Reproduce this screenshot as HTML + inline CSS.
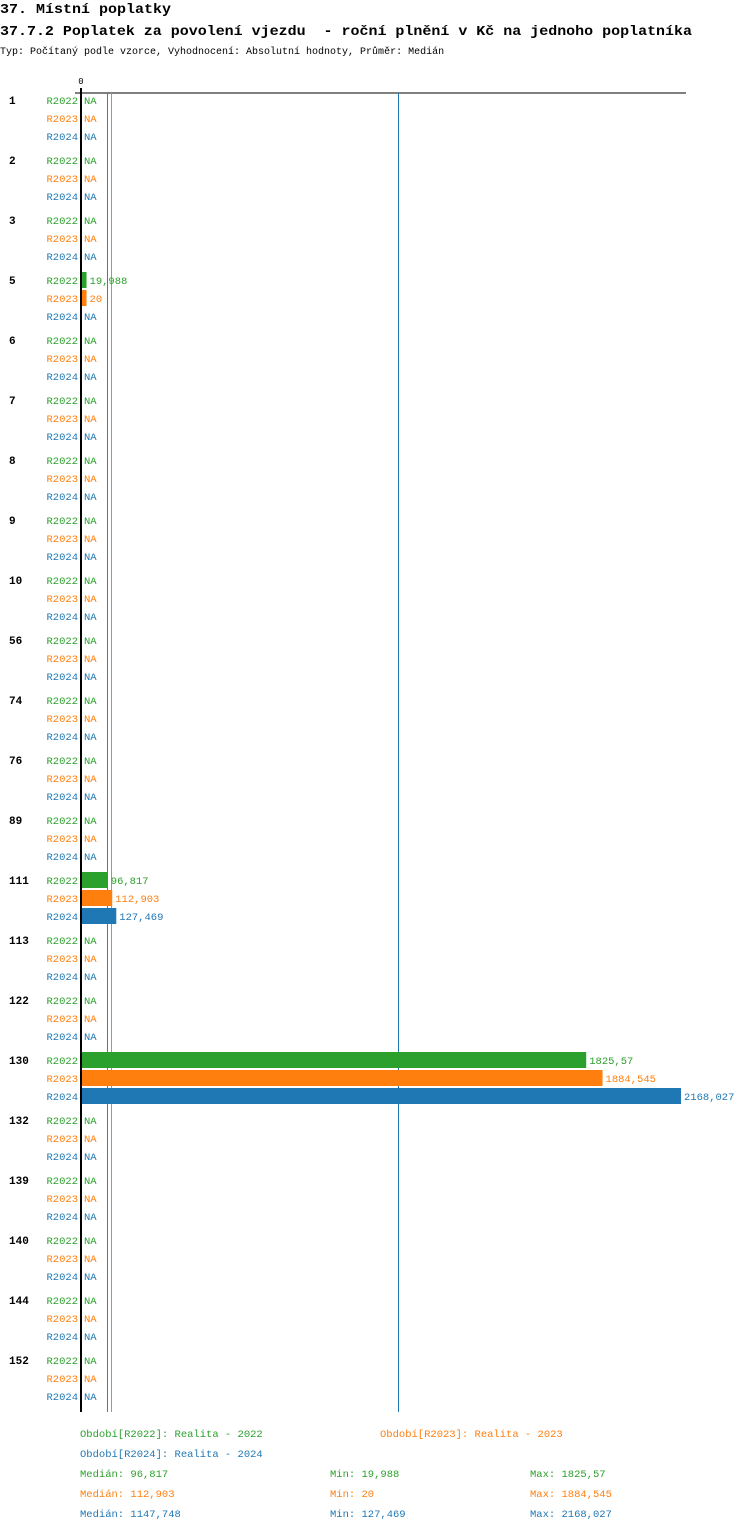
<!DOCTYPE html>
<html><head><meta charset="utf-8">
<style>
body{margin:0;background:#fff;width:750px;height:1532px;overflow:hidden;font-family:"Liberation Mono","DejaVu Sans Mono",monospace;}
svg text{font-family:"Liberation Mono","DejaVu Sans Mono",monospace;}
</style></head>
<body>
<svg id="chart" width="750" height="1532" xmlns="http://www.w3.org/2000/svg">
<text x="0" y="13" font-size="14" font-weight="bold" fill="#000" textLength="171" lengthAdjust="spacingAndGlyphs">37. Místní poplatky</text>
<text x="0" y="35" font-size="14" font-weight="bold" fill="#000" textLength="692" lengthAdjust="spacingAndGlyphs" xml:space="preserve">37.7.2 Poplatek za povolení vjezdu  - roční plnění v Kč na jednoho poplatníka</text>
<text x="0" y="54" font-size="10" fill="#000">Typ: Počítaný podle vzorce, Vyhodnocení: Absolutní hodnoty, Průměr: Medián</text>
<g id="plot"></g>
</svg>
<script>
const categories=["1","2","3","5","6","7","8","9","10","56","74","76","89","111","113","122","130","132","139","140","144","152"];
const seriesNames=["R2022","R2023","R2024"];
const r2022=[null,null,null,19.988,null,null,null,null,null,null,null,null,null,96.817,null,null,1825.57,null,null,null,null,null];
const r2023=[null,null,null,20,null,null,null,null,null,null,null,null,null,112.903,null,null,1884.545,null,null,null,null,null];
const r2024=[null,null,null,null,null,null,null,null,null,null,null,null,null,127.469,null,null,2168.027,null,null,null,null,null];
const valueLabels2022=[null,null,null,"19,988",null,null,null,null,null,null,null,null,null,"96,817",null,null,"1825,57",null,null,null,null,null];
const valueLabels2023=[null,null,null,"20",null,null,null,null,null,null,null,null,null,"112,903",null,null,"1884,545",null,null,null,null,null];
const valueLabels2024=[null,null,null,null,null,null,null,null,null,null,null,null,null,"127,469",null,null,"2168,027",null,null,null,null,null];
const medians=[96.817,112.903,1147.748];
const mins=["19,988","20","127,469"];
const maxs=["1825,57","1884,545","2168,027"];
const medianLabels=["96,817","112,903","1147,748"];
const periodNames=["Realita - 2022","Realita - 2023","Realita - 2024"];

const colors=["#2ca02c","#ff7f0e","#1f77b4"];
const series=[r2022,r2023,r2024];
const labels=[valueLabels2022,valueLabels2023,valueLabels2024];
const NS="http://www.w3.org/2000/svg";
const g=document.getElementById('plot');
const x0=81, xMaxVal=2168.027, xMaxPx=681;
const xScale=v=>x0+(v/xMaxVal)*(xMaxPx-x0);
const yGroup=i=>101+i*60;
function mk(tag,attrs,txt){const e=document.createElementNS(NS,tag);for(const k in attrs)e.setAttribute(k,attrs[k]);if(txt!=null)e.textContent=txt;g.appendChild(e);return e;}

let e;
e=mk('line',{x1:75,y1:93,x2:686,y2:93,stroke:'#000','stroke-width':1});


e=mk('text',{x:x0,y:84,'font-size':9,'text-anchor':'middle',fill:'#000'},'0');



medians.forEach((m,s)=>{
  const x=Math.round(xScale(m))-1;
  const l=mk('rect',{x:x,y:93,width:1,height:1319,fill:colors[s],'shape-rendering':'crispEdges'});
  
  
});

categories.forEach((c,i)=>{
  const gy=yGroup(i);
  const t=mk('text',{x:9,y:gy+3,'font-size':11,'font-weight':'bold',fill:'#000'},c);
  
  
  series.forEach((ser,s)=>{
    const y=gy+s*18;
    const sl=mk('text',{x:78,y:y+3,'font-size':10.5,'text-anchor':'end',fill:colors[s]},seriesNames[s]);
    
    
    const v=ser[i];
    if(v==null){
      const na=mk('text',{x:84,y:y+3,'font-size':10.5,fill:colors[s]},'NA');
      
      
    }else{
      const xe=xScale(v);
      const b=mk('rect',{x:82,y:y-9,width:Math.max(1,xe-82),height:16,fill:colors[s]});
      
      
      const vl=mk('text',{x:xe+3,y:y+3,'font-size':10.5,fill:colors[s]},labels[s][i]);
      
      
    }
  });
});
e=mk('line',{x1:81,y1:88,x2:81,y2:1412,stroke:'#000','stroke-width':2});



const legendPos=[[80,1437],[380,1437],[80,1457]];
legendPos.forEach((p,s)=>{
  const t=mk('text',{x:p[0],y:p[1],'font-size':10.5,fill:colors[s]},'Období['+seriesNames[s]+']: '+periodNames[s]);
  
  
});
[0,1,2].forEach(s=>{
  const y=1477+s*20;
  let t=mk('text',{x:80,y:y,'font-size':10.5,fill:colors[s]},'Medián: '+medianLabels[s]);
  
  
  t=mk('text',{x:330,y:y,'font-size':10.5,fill:colors[s]},'Min: '+mins[s]);
  
  
  t=mk('text',{x:530,y:y,'font-size':10.5,fill:colors[s]},'Max: '+maxs[s]);
  
  
});
</script>
</body></html>
